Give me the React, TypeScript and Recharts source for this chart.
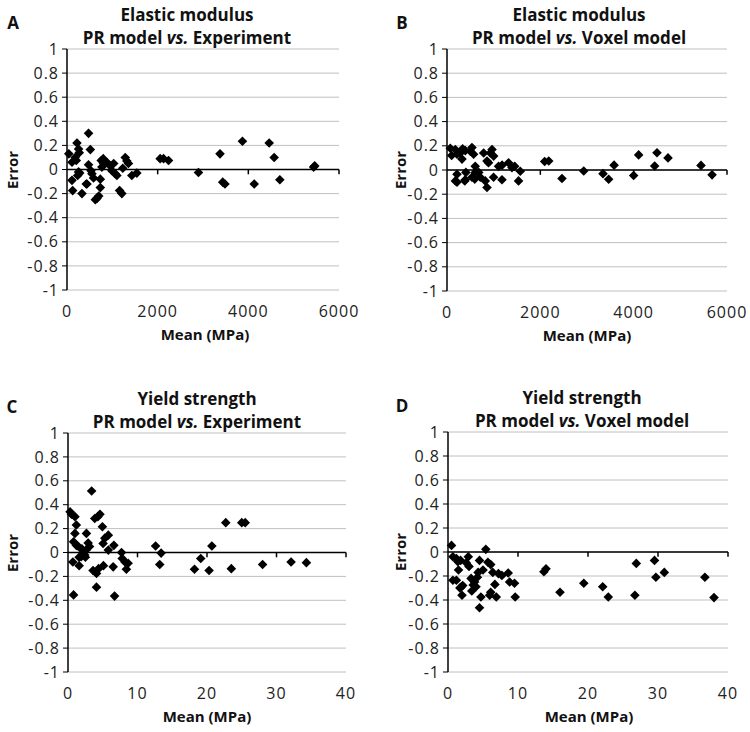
// four Bland-Altman style error plots: PR model against experiment and voxel model
import { ScatterChart, Scatter, XAxis, YAxis, CartesianGrid, ReferenceLine } from "recharts";

const Y_TICKS = [-1, -0.8, -0.6, -0.4, -0.2, 0, 0.2, 0.4, 0.6, 0.8, 1];
const MODULUS_TICKS = [0, 2000, 4000, 6000];
const STRENGTH_TICKS = [0, 10, 20, 30, 40];

// [mean (MPa), error]
const modulusVsExperiment = [
  [40, 0.13], [110, -0.09], [125, -0.175], [110, 0.06], [180, 0.1], [205, 0.075], [220, 0.22],
  [255, 0.17], [270, 0.14], [235, -0.05], [255, -0.02], [280, -0.03], [330, -0.2], [425, -0.12],
  [440, -0.12], [475, 0.3], [515, 0.165], [475, 0.04], [530, -0.01], [550, -0.035], [585, -0.07],
  [625, -0.25], [660, -0.24], [700, -0.22], [735, -0.15], [735, -0.08], [755, 0.075], [770, 0.02],
  [800, 0.09], [805, 0.05], [880, 0.06], [955, 0.03], [990, -0.01], [1030, 0.05], [1065, -0.035],
  [1100, -0.05], [1160, -0.175], [1210, -0.2], [1230, 0.01], [1285, 0.1], [1320, 0.07], [1355, 0.05],
  [1430, -0.05], [1540, -0.03], [2055, 0.09], [2130, 0.09], [2240, 0.075], [2900, -0.025],
  [3375, 0.13], [3435, -0.105], [3485, -0.12], [3870, 0.235], [4130, -0.12], [4460, 0.22],
  [4570, 0.1], [4695, -0.085], [5465, 0.03], [5440, 0.02],
];

const modulusVsVoxel = [
  [70, 0.18], [100, 0.12], [178, 0.17], [214, 0.13], [180, -0.09], [214, -0.035], [215, -0.1],
  [285, 0.14], [321, 0.09], [335, 0.175], [380, -0.09], [392, 0.16], [392, -0.08], [405, -0.02],
  [500, 0.155], [535, 0.185], [535, -0.06], [570, 0.13], [595, -0.075], [606, -0.02], [605, 0.03],
  [680, -0.02], [713, -0.06], [785, 0.14], [820, -0.09], [857, -0.145], [857, 0.075], [890, 0.06],
  [927, 0.14], [965, 0.17], [1000, 0.115], [998, -0.06], [1105, 0.03], [1178, -0.08], [1180, 0.04],
  [1319, 0.06], [1392, 0.02], [1450, 0.03], [1533, -0.09], [1570, -0.01], [2093, 0.07], [2180, 0.075],
  [2464, -0.07], [2930, -0.008], [3343, -0.03], [3464, -0.077], [3580, 0.04], [4000, -0.045],
  [4107, 0.125], [4450, 0.033], [4500, 0.143], [4736, 0.1], [5443, 0.038], [5680, -0.04],
];

const strengthVsExperiment = [
  [0.3, 0.34], [0.5, 0.32], [1.0, 0.3], [1.2, 0.23], [1.0, 0.16], [0.8, 0.09], [1.2, 0.06], [1.5, 0.05],
  [0.7, -0.08], [0.8, -0.355], [1.6, -0.11], [1.6, -0.04], [1.9, -0.035], [2.2, 0.005], [2.4, -0.02],
  [2.0, 0.03], [2.65, 0.16], [2.9, 0.08], [3.1, 0.05], [2.6, 0.02], [2.5, -0.04], [3.4, 0.515],
  [3.85, 0.285], [4.6, 0.32], [4.3, 0.3], [3.6, -0.15], [4.1, -0.175], [4.1, -0.29], [4.4, -0.135],
  [4.95, 0.215], [5.3, 0.12], [5.8, 0.145], [5.05, 0.075], [5.8, 0.02], [5.1, -0.11], [6.6, 0.06],
  [6.5, -0.12], [6.7, -0.365], [7.7, 0.0], [7.8, -0.05], [8.2, -0.08], [8.4, -0.14], [8.65, -0.09],
  [12.6, 0.055], [13.4, -0.005], [13.2, -0.1], [18.2, -0.14], [19.1, -0.05], [20.7, 0.055],
  [20.3, -0.15], [22.7, 0.25], [23.5, -0.135], [25.0, 0.25], [25.5, 0.25], [28.0, -0.1],
  [32.1, -0.08], [34.3, -0.085],
];

const strengthVsVoxel = [
  [0.5, 0.055], [0.7, -0.04], [0.7, -0.235], [1.2, -0.235], [1.2, -0.055], [1.4, -0.08], [1.5, -0.15],
  [1.8, -0.07], [1.7, -0.3], [1.9, -0.29], [2.0, -0.36], [2.1, -0.28], [2.6, -0.09], [2.9, -0.04],
  [3.0, -0.12], [3.3, -0.22], [3.4, -0.325], [3.6, -0.275], [3.8, -0.25], [4.0, -0.29], [4.2, -0.21],
  [4.5, -0.465], [4.7, -0.375], [4.5, -0.07], [4.3, -0.17], [5.0, -0.15], [5.4, 0.022], [5.7, -0.085],
  [5.95, -0.36], [6.1, -0.105], [6.1, -0.335], [6.4, -0.17], [6.7, -0.27], [6.9, -0.375], [7.2, -0.18],
  [7.7, -0.195], [8.6, -0.175], [8.8, -0.25], [9.5, -0.26], [9.6, -0.375], [13.7, -0.165], [14.0, -0.14],
  [16.0, -0.335], [19.4, -0.26], [22.1, -0.29], [22.9, -0.375], [26.7, -0.36], [26.9, -0.095],
  [29.5, -0.07], [29.7, -0.21], [30.9, -0.17], [36.7, -0.21], [38.0, -0.38],
];

const FONT = "'Open Sans', Lato, sans-serif";
const TICK_STYLE = { fill: "#222", fontSize: 16, fontFamily: FONT, letterSpacing: 1 };

const Diamond = (props: any) => {
  const { cx, cy } = props;
  const r = 4.8;
  return (
    <polygon
      points={`${cx},${cy - r} ${cx + r},${cy} ${cx},${cy + r} ${cx - r},${cy}`}
      fill="#000"
    />
  );
};

interface PanelProps {
  left: number;
  top: number;
  width: number;
  height: number;
  plot: { x0: number; x1: number; y0: number; y1: number };
  points: number[][];
  xTicks: number[];
  letter: string;
  letterX: number;
  titleTop: string;
  titleBottom: string;
  titleX: number;
  labelX: number;
  errorX: number;
}

const Panel = (p: PanelProps) => {
  const data = p.points.map(([x, y]) => ({ x, y }));
  const margin = { top: p.plot.y0, right: p.width - p.plot.x1, bottom: p.height - p.plot.y1 - 30, left: 0 };
  const xMax = p.xTicks[p.xTicks.length - 1];
  const text = (x: number, y: number, size: number, extra: any = {}) => ({
    position: "absolute" as const,
    left: x,
    top: y,
    transform: "translate(-50%, -50%)",
    fontSize: size,
    fontWeight: 700,
    whiteSpace: "nowrap" as const,
    lineHeight: 1,
    color: "#111",
    ...extra,
  });

  return (
    <div style={{ position: "absolute", left: p.left, top: p.top, width: p.width, height: p.height }}>
      <ScatterChart width={p.width} height={p.height} margin={margin}>
        <CartesianGrid vertical={false} stroke="#c0c0c0" />
        <XAxis
          type="number"
          dataKey="x"
          domain={[0, xMax]}
          ticks={p.xTicks}
          axisLine={false}
          tickLine={false}
          tickSize={0}
          tickMargin={16}
          height={30}
          tick={TICK_STYLE}
        />
        <YAxis
          type="number"
          dataKey="y"
          domain={[-1, 1]}
          ticks={Y_TICKS}
          width={p.plot.x0}
          axisLine={{ stroke: "#000", strokeWidth: 1.5 }}
          tickLine={{ stroke: "#000" }}
          tickSize={5}
          tickMargin={3}
          tick={TICK_STYLE}
        />
        <ReferenceLine y={0} stroke="#000" strokeWidth={1.5} />
        {p.xTicks.slice(1).map((t) => (
          <ReferenceLine
            key={t}
            segment={[{ x: t, y: 0 }, { x: t, y: -0.04 }]}
            stroke="#000"
            strokeWidth={1.5}
          />
        ))}
        <Scatter data={data} shape={Diamond} fill="#000" isAnimationActive={false} />
      </ScatterChart>

      <div style={text(p.letterX, p.plot.y0 - 27, 17)}>{p.letter}</div>
      <div style={text(p.titleX, p.plot.y0 - 35, 17)}>{p.titleTop}</div>
      <div style={text(p.titleX, p.plot.y0 - 12, 17)}>
        PR model <i>vs.</i> {p.titleBottom}
      </div>
      <div style={text(p.errorX, (p.plot.y0 + p.plot.y1) / 2, 15, { transform: "translate(-50%, -50%) rotate(-90deg)" })}>
        Error
      </div>
      <div style={text(p.labelX, p.plot.y1 + 44, 15)}>Mean (MPa)</div>
    </div>
  );
};

export default function App() {
  return (
    <div style={{ position: "absolute", left: 0, top: 0, width: 750, height: 732, background: "#fff", fontFamily: FONT }}>
      <Panel
        left={0} top={0} width={375} height={360}
        plot={{ x0: 67, x1: 339, y0: 49, y1: 290 }}
        points={modulusVsExperiment} xTicks={MODULUS_TICKS}
        letter="A" letterX={13} titleTop="Elastic modulus" titleBottom="Experiment"
        titleX={187} labelX={205} errorX={12}
      />
      <Panel
        left={375} top={0} width={375} height={360}
        plot={{ x0: 72, x1: 352, y0: 49, y1: 291 }}
        points={modulusVsVoxel} xTicks={MODULUS_TICKS}
        letter="B" letterX={27} titleTop="Elastic modulus" titleBottom="Voxel model"
        titleX={204} labelX={212} errorX={25}
      />
      <Panel
        left={0} top={360} width={375} height={372}
        plot={{ x0: 68, x1: 346, y0: 73, y1: 312 }}
        points={strengthVsExperiment} xTicks={STRENGTH_TICKS}
        letter="C" letterX={12} titleTop="Yield strength" titleBottom="Experiment"
        titleX={197} labelX={207} errorX={12}
      />
      <Panel
        left={375} top={360} width={375} height={372}
        plot={{ x0: 73, x1: 353, y0: 72, y1: 312 }}
        points={strengthVsVoxel} xTicks={STRENGTH_TICKS}
        letter="D" letterX={27} titleTop="Yield strength" titleBottom="Voxel model"
        titleX={207} labelX={214} errorX={25}
      />
    </div>
  );
}
